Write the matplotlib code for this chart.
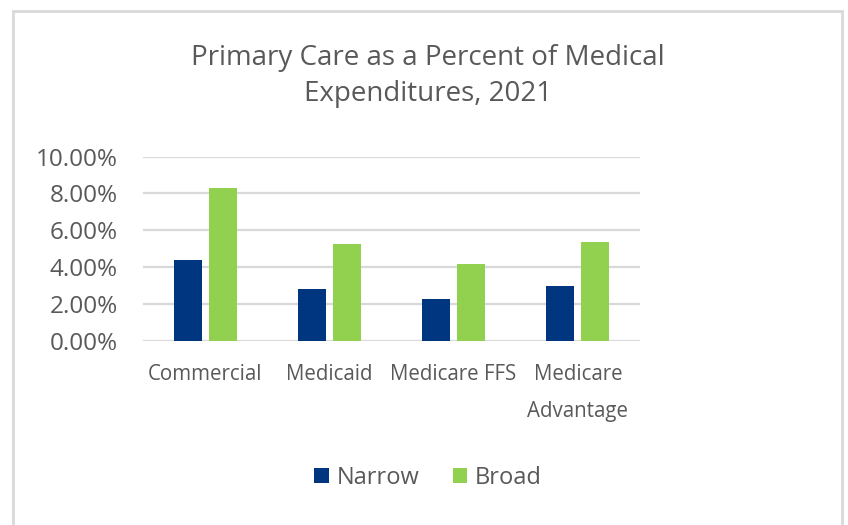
import numpy as np
import matplotlib
matplotlib.use("Agg")
from matplotlib import pyplot as plt
from matplotlib.patches import Rectangle

categories = ["Commercial", "Medicaid", "Medicare FFS", "Medicare\nAdvantage"]
narrow = [0.0437, 0.0281, 0.0227, 0.0296]
broad = [0.0828, 0.0524, 0.0415, 0.0538]
yticks = [0.0, 0.02, 0.04, 0.06, 0.08, 0.10]

text_col = "#595959"
grid_col = "#d9d9d9"
navy = "#003580"
green = "#92d050"

plt.rcParams['font.family'] = ['Open Sans', 'DejaVu Sans']

fig = plt.figure(figsize=(8.48, 5.25), dpi=100)
fig.patches.append(Rectangle((13 / 848, -0.01), (842 - 13) / 848, 1 - 11 / 525 + 0.01,
                             transform=fig.transFigure, fill=False,
                             edgecolor=grid_col, linewidth=2))

ax = fig.add_axes([143 / 848, 1 - 340.7 / 525, (640 - 143) / 848, (340.7 - 156.7) / 525])
x = np.arange(len(categories))
w = 0.225
off = 0.141
ax.bar(x - off, narrow, w, color=navy, label="Narrow", zorder=3)
ax.bar(x + off, broad, w, color=green, label="Broad", zorder=3)

ax.set_xlim(-0.5, len(categories) - 0.5)
ax.set_ylim(0, 0.10)
ax.set_yticks(yticks)
ax.set_yticklabels(["{:.2f}%".format(v * 100) for v in yticks])
ax.set_xticks(x)
ax.set_xticklabels(categories, linespacing=2.0)
ax.tick_params(axis='y', length=0, pad=18, labelsize=17.5, labelcolor=text_col)
ax.tick_params(axis='x', length=0, pad=17, labelsize=14.8, labelcolor=text_col)
ax.grid(axis='y', color=grid_col, linewidth=1.6, zorder=0)
for s in ax.spines.values():
    s.set_visible(False)

fig.text(0.505, 0.855, "Primary Care as a Percent of Medical\nExpenditures, 2021",
         ha='center', va='center', fontsize=20, color=text_col, linespacing=1.35)

fig.legend(loc='center', bbox_to_anchor=(0.505, 1 - 478 / 525), ncol=2, frameon=False,
           fontsize=17, labelcolor=text_col, handlelength=0.6, handleheight=0.6,
           handletextpad=0.35, columnspacing=1.4)

fig.savefig("out.png", dpi=100)
